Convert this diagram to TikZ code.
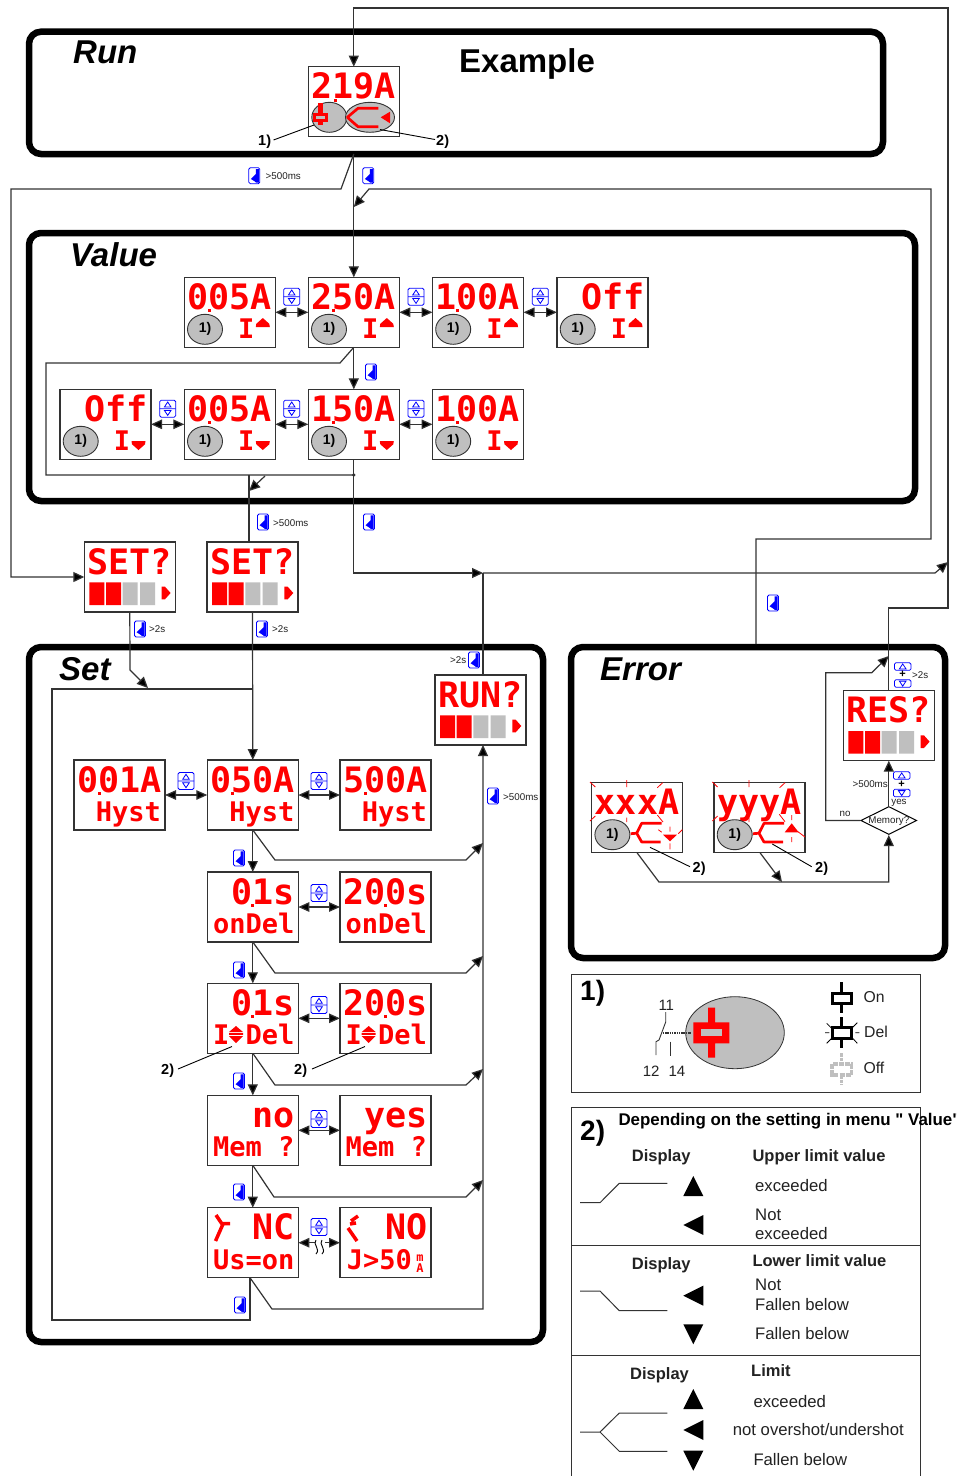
\documentclass[tikz,border=0pt]{standalone}
\usepackage{fontspec}
\setmainfont{Liberation Sans}
\newfontfamily\lcdfont{DejaVu Sans Mono}
\newfontfamily\plainsans{Liberation Sans}
\usetikzlibrary{arrows.meta,shapes.geometric}
\definecolor{lc}{HTML}{333333}
\definecolor{tc}{HTML}{222222}
\definecolor{gy}{HTML}{BFBFBF}
\definecolor{kb}{HTML}{0000FF}
\tikzset{
 flow/.style={line width=1.2pt,draw=lc},
 arr/.style={flow,-{Triangle[length=11pt,width=10pt,fill=black]},shorten >=0pt},
 dbl/.style={flow,{Triangle[length=11pt,width=9.5pt,fill=black]}-{Triangle[length=11pt,width=9.5pt,fill=black]}},
 thin2/.style={line width=.9pt,draw=black},
 frm/.style={draw=black,line width=6.5pt,rounded corners=12pt,inner sep=0,outer sep=0},
 pbox/.style={draw=lc,line width=1.1pt,fill=white,minimum width=91pt,minimum height=70pt,inner sep=0,outer sep=0,anchor=north west},
 lcdtop/.style={inner sep=0,outer sep=0,text=red,anchor=base east,font=\lcdfont\bfseries\fontsize{35}{35}\selectfont},
 lcdlow/.style={inner sep=0,outer sep=0,text=red,anchor=base east,font=\lcdfont\bfseries\fontsize{27}{27}\selectfont},
 eln/.style={ellipse,draw=lc,line width=.9pt,fill=gy,inner sep=0,outer sep=0,minimum width=35pt,minimum height=30pt,font=\bfseries\fontsize{14}{14}\selectfont},
 ttl/.style={inner sep=0,anchor=base west,font=\bfseries\itshape\fontsize{33}{33}\selectfont},
 sm/.style={inner sep=0,text=tc,font=\fontsize{9.8}{9.8}\selectfont},
 cal/.style={inner sep=0,anchor=base west,font=\bfseries\fontsize{14.5}{14.5}\selectfont},
 body/.style={inner sep=0,anchor=base west,text=tc,font=\fontsize{16.7}{16.7}\selectfont},
 hd/.style={inner sep=0,anchor=base west,text=tc,font=\bfseries\fontsize{16.5}{16.5}\selectfont},
 rsym/.style={draw=red,line width=2.7pt},
 ray/.style={draw=red,line width=.8pt},
 keyl/.style={draw=kb,line width=.8pt,rounded corners=1.5pt},
 enterkey/.pic={\draw[keyl] (-5.5,-8) rectangle (5.5,8);
   \fill[kb] (-3.4,3.3)--(1.6,-1.8)--(1.6,-6.7)--(4.6,-6.7)--(4.6,7)--(2,7)--(.3,5.6)--cycle;},
 updown/.pic={\draw[keyl] (-8,-8.5) rectangle (8,8.5);
   \draw[draw=kb,line width=.8pt] (-8,0)--(8,0) (0,-6.7)--(-3.3,-1.7)--(3.3,-1.7)--cycle (0,6.7)--(-3.3,1.7)--(3.3,1.7)--cycle;},
 smallup/.pic={\draw[keyl] (-8.3,-3.8) rectangle (8.3,3.8);
   \draw[draw=kb,line width=.8pt] (0,-2.6)--(-3.3,2.4)--(3.3,2.4)--cycle;},
 smalldn/.pic={\draw[keyl] (-8.3,-3.8) rectangle (8.3,3.8);
   \draw[draw=kb,line width=.8pt] (0,2.6)--(-3.3,-2.4)--(3.3,-2.4)--cycle;},
}
\newcommand\lcdpanel[4]{\node[pbox] (#1) at (#2,#3) {};
 \begin{scope}[shift={(#2,#3)}]\node[lcdtop] (#1t) at (87.5,32) {#4};\end{scope}}
\newcommand\lcdlower[4]{\begin{scope}[shift={(#2,#3)}]\node[lcdlow] (#1l) at (87,61.5) {#4};\end{scope}}
\newcommand\lcddot[3]{\fill[red] (#1+#3-1.5,#2+32) rectangle (#1+#3+1.5,#2+35);}
\newcommand\limitup[3]{\begin{scope}[shift={(#2,#3)}]
 \node[eln] (#1e) at (20.7,52) {1)};
 \node[lcdlow,anchor=base] (#1i) at (62,61) {I};
 \fill[red] (78.5,40.7)--(72,46.5)--(71.5,49.7)--(85.5,49.7)--(85,46.5)--cycle;
 \end{scope}}
\newcommand\limitdn[3]{\begin{scope}[shift={(#2,#3)}]
 \node[eln] (#1e) at (20.7,52) {1)};
 \node[lcdlow,anchor=base] (#1i) at (62,61) {I};
 \fill[red] (78.5,60.7)--(72,55)--(71.5,51.7)--(85.5,51.7)--(85,55)--cycle;
 \end{scope}}
\newcommand\progress[2]{\begin{scope}[shift={(#1,#2)}]
 \fill[red] (5,40.3) rectangle (20,63) (21.7,40.3) rectangle (36.7,63);
 \fill[gy] (38.3,40.3) rectangle (53.3,63) (55.7,40.3) rectangle (70.7,63);
 \fill[red] (77.3,44.7)--(80.7,44.7)--(86.3,51)--(80.7,57.3)--(77.3,57.3)--cycle;
 \end{scope}}
\newcommand\updownmark[2]{\begin{scope}[shift={(#1,#2)}]
 \fill[red] (28.7,42.7)--(21.7,48.7)--(35.7,48.7)--cycle (28.7,59.7)--(21.7,52.7)--(35.7,52.7)--cycle (21.7,49.8) rectangle (35.7,51.6);
 \end{scope}}
\newcommand\splitsym[2]{\begin{scope}[shift={(#1,#2)}]
 \draw[rsym,line join=bevel] (70,40.6)--(50,40.6)--(45,50.5)--(50,59.3)--(69,59.3) (39,51)--(45,50.5);
 \end{scope}}
\newcommand\toprays[2]{\begin{scope}[shift={(#1,#2)}]
 \draw[ray] (-1.7,-.7)--(3.6,4.3) (35,-2.7)--(35,4.3) (65.6,5)--(71,0) (-1.7,38.3)--(3.6,33.3) (35,35)--(35,39.3) (65.6,32.3)--(71.3,39.3);
 \end{scope}}
\begin{document}
\begin{tikzpicture}[x=1pt,y=-1pt]
\useasboundingbox (0,0) rectangle (957,1476);
\fill[white] (0,0) rectangle (957,1476);
% frames
\node[frm,minimum width=854pt,minimum height=122.3pt] (frun) at (456,92.85) {};
\node[frm,minimum width=886pt,minimum height=268pt] (fval) at (472,367) {};
\node[frm,minimum width=514pt,minimum height=695pt] (fset) at (286,994.5) {};
\node[frm,minimum width=374pt,minimum height=311pt] (ferr) at (758,802.5) {};
\node[ttl] (trun) at (73,63) {Run};
\node[inner sep=0,anchor=base west,font=\bfseries\fontsize{33}{33}\selectfont] (texa) at (459,72) {Example};
\node[ttl] (tval) at (70,266) {Value};
\node[ttl] (tset) at (59,680) {Set};
\node[ttl] (terr) at (600,680) {Error};
% displays
\lcdpanel{d219}{308.3}{66.7}{219A}\fill[red] (333.5,98.7) rectangle (336.5,101.7);
\begin{scope}[shift={(308.3,66.7)}]
\node[eln] (e1) at (21,50.6) {};
\node[eln,minimum width=49pt] (e2) at (61.7,50.6) {};
\fill[red] (10,36.7) rectangle (15,58.3);
\fill[red] (5,46.7) rectangle (20,55);
\fill[gy] (8,49.3) rectangle (17,51.8);
\draw[rsym,line join=bevel] (70,41.6)--(49.7,41.6)--(39,50.6)--(49.7,60)--(70,60);
\fill[red] (72.4,50.6)--(81.7,45)--(81.7,56.6)--cycle;
\end{scope}
\lcdpanel{v1}{184.3}{277.3}{005A}\lcddot{184.3}{277.3}{24.7}\limitup{v1}{184.3}{277.3}
\lcdpanel{v2}{308.3}{277.3}{250A}\lcddot{308.3}{277.3}{25}\limitup{v2}{308.3}{277.3}
\lcdpanel{v3}{432.5}{277.3}{100A}\lcddot{432.5}{277.3}{25}\limitup{v3}{432.5}{277.3}
\lcdpanel{v4}{557}{277.3}{Off}\limitup{v4}{557}{277.3}
\lcdpanel{w0}{60}{389.3}{Off}\limitdn{w0}{60}{389.3}
\lcdpanel{w1}{184.3}{389.3}{005A}\lcddot{184.3}{389.3}{24.7}\limitdn{w1}{184.3}{389.3}
\lcdpanel{w2}{308.3}{389.3}{150A}\lcddot{308.3}{389.3}{25}\limitdn{w2}{308.3}{389.3}
\lcdpanel{w3}{432.5}{389.3}{100A}\lcddot{432.5}{389.3}{25}\limitdn{w3}{432.5}{389.3}
\lcdpanel{set1}{84.3}{542}{SET?}\progress{84.3}{542}
\lcdpanel{set2}{207}{542}{SET?}\progress{207}{542}
\lcdpanel{run}{435}{675}{RUN?}\progress{435}{675}
\lcdpanel{res}{843.3}{690.7}{RES?}\progress{843.3}{690.7}
\lcdpanel{h1}{74}{760}{001A}\lcddot{74}{760}{25}\lcdlower{h1}{74}{760}{Hyst}
\lcdpanel{h2}{207.3}{760}{050A}\lcddot{207.3}{760}{25}\lcdlower{h2}{207.3}{760}{Hyst}
\lcdpanel{h3}{340}{760}{500A}\lcddot{340}{760}{25}\lcdlower{h3}{340}{760}{Hyst}
\lcdpanel{o1}{207.3}{872}{01s}\lcddot{207.3}{872}{45}\lcdlower{o1}{207.3}{872}{onDel}
\lcdpanel{o2}{340}{872}{200s}\lcddot{340}{872}{45}\lcdlower{o2}{340}{872}{onDel}
\lcdpanel{i1}{207.3}{983.3}{01s}\lcddot{207.3}{983.3}{45}\lcdlower{i1}{207.3}{983.3}{I Del}\updownmark{207.3}{983.3}
\lcdpanel{i2}{340}{983.3}{200s}\lcddot{340}{983.3}{45}\lcdlower{i2}{340}{983.3}{I Del}\updownmark{340}{983.3}
\lcdpanel{m1}{207.3}{1095.3}{no}\lcdlower{m1}{207.3}{1095.3}{Mem ?}
\lcdpanel{m2}{340}{1095.3}{yes}\lcdlower{m2}{340}{1095.3}{Mem ?}
\lcdpanel{n1}{207.3}{1207.7}{NC}\lcdlower{n1}{207.3}{1207.7}{Us=on}
\lcdpanel{n2}{340}{1207.7}{NO}
\node[lcdlow] (n2l) at (412,1269.5) {J>50};
\node[inner sep=0,text=red,anchor=base,font=\lcdfont\bfseries\fontsize{12}{12}\selectfont] (n2m) at (420,1261.5) {m};
\node[inner sep=0,text=red,anchor=base,font=\lcdfont\bfseries\fontsize{12}{12}\selectfont] (n2a) at (420,1272) {A};
\draw[rsym,line width=3.5pt] (216,1215)--(221.7,1223.5)--(230,1223.5) (223,1224)--(215.5,1241);
\draw[rsym,line width=3.5pt] (358,1216)--(351,1221) (348,1228)--(357,1241) (350,1224)--(356,1223);
\lcdpanel{x1}{591.7}{782.7}{xxxA}\node[eln] (x1e) at (612.4,834.7) {1)};\splitsym{591.7}{782.7}
\toprays{591.7}{782.7}
\begin{scope}[shift={(591.7,782.7)}]
\fill[red] (71.3,52)--(85.3,52)--(78.3,58.6)--cycle;
\draw[ray] (66.6,47)--(70,49.5) (78.3,44)--(78.3,49) (86.6,51)--(90.6,47) (78.3,60.6)--(78.3,66.6);
\end{scope}
\lcdpanel{x2}{714}{782.7}{yyyA}\node[eln] (x2e) at (734.7,834.7) {1)};\splitsym{714}{782.7}
\begin{scope}[shift={(714,782.7)}]
\draw[ray] (-1.7,-.7)--(3.6,4.3) (35,-2.7)--(35,4.3) (65.6,5)--(71,0) (-1.7,38.3)--(3.6,33.3) (35,35)--(35,39.3);
\fill[red] (77.7,40.6)--(70.7,49.6)--(84.7,49.6)--cycle;
\draw[ray] (65.3,31.6)--(71,39) (77.7,32.3)--(77.7,37.3) (84,49)--(91,54.3) (77.7,54.3)--(77.7,59.3);
\end{scope}
% junction points
\coordinate (runout) at (353.8,154);
\coordinate (dotj) at (353.8,475);
\coordinate (busa) at (483,573);
\coordinate (rvin) at (483,745);
\coordinate (j207) at (353.8,207);
% Run connections
\draw[arr] (res.north)--(888.8,608)--(948,608)--(948,8)--(353.8,8)--(d219.north);
\draw[arr] (runout)--(v2.north);
\draw[arr] (runout)--(341,189)--(11,189)--(11,577)--(set1.west);
\draw[arr] (756,644)--(756,539)--(931,539)--(931,189)--(369,189)--(j207);
% Value connections
\draw[dbl] (v1.east)--(v2.west);
\draw[dbl] (v2.east)--(v3.west);
\draw[dbl] (v3.east)--(v4.west);
\draw[dbl] (w0.east)--(w1.west);
\draw[dbl] (w1.east)--(w2.west);
\draw[dbl] (w2.east)--(w3.west);
\draw[arr] (v2.south)--(w2.north);
\draw[flow] (v2.south)--(340,363)--(46,363)--(46,475)--(dotj);
\draw[arr] (w2.south)--(dotj)--(353.8,573)--(busa);
\fill[lc] (dotj) circle (1.9);
\draw[arr] (265,476)--(249,491);
\draw[flow] (249,475)--(249,542);
% bus to the right
\draw[flow] (483,675)--(busa);
\draw[arr] (busa)--(935,573)--(948,562);
% Set connections
\draw[arr] (set1.south)--(130,670)--(148,688);
\draw[arr] (set2.south)--(h2.north);
\draw[flow] (252.7,689)--(52,689)--(52,1320)--(250,1320)--(250,1277.7);
\draw[dbl] (h1.east)--(h2.west);
\draw[dbl] (h2.east)--(h3.west);
\draw[dbl] (o1.east)--(o2.west);
\draw[dbl] (i1.east)--(i2.west);
\draw[dbl] (m1.east)--(m2.west);
\draw[dbl] (n1.east)--(n2.west);
\fill[white] (314.5,1236) rectangle (324.5,1258);
\draw[thin2] (316,1240) .. controls (312,1244) and (321,1249) .. (316,1254);
\draw[thin2] (322,1240) .. controls (318,1244) and (327,1249) .. (322,1254);
\draw[arr] (h2.south)--(o1.north);
\draw[arr] (o1.south)--(i1.north);
\draw[arr] (i1.south)--(m1.north);
\draw[arr] (m1.south)--(n1.north);
\draw[arr] (h2.south)--(275,860)--(466,860)--(483,843);
\draw[arr] (o1.south)--(275,973)--(466,973)--(483,956);
\draw[arr] (i1.south)--(275,1085)--(466,1085)--(483,1069);
\draw[arr] (m1.south)--(274,1197)--(466,1197)--(483,1180);
\draw[arr] (250,1277.7)--(272,1309)--(483,1309)--(rvin);
% Error connections
\node[diamond,aspect=2,draw=black,line width=1pt,fill=white,inner sep=0,minimum width=56pt,minimum height=28pt] (mem) at (888.8,820.5) {};
\node[sm] (memt) at (888.8,821.5) {Memory?};
\draw[arr] (mem.north)--(res.south);
\draw[arr] (mem.west)--(825.7,820.5)--(825.7,672.7)--(871.7,672.7)--(888.8,656);
\draw[arr] (637,852.7)--(659,882)--(888.8,882)--(mem.south);
\draw[arr] (760,852.7)--(782,882);
% callouts
\node[cal] (c1) at (258,145) {1)};
\draw[thin2] (273.5,140)--(314,125);
\node[cal] (c2) at (436,145) {2)};
\draw[thin2] (435,139.5)--(380,129.5);
\node[cal] (c3) at (161,1074) {2)};
\draw[thin2] (178,1069)--(232,1046.5);
\node[cal] (c4) at (294,1074) {2)};
\draw[thin2] (312,1069)--(365,1046.5);
\node[cal] (c5) at (692.5,872) {2)};
\draw[thin2] (690,866.7)--(650,847.3);
\node[cal] (c6) at (815,872) {2)};
\draw[thin2] (811.7,866.7)--(772.3,844);
% keys
\pic at (254.3,175.7) {enterkey};
\node[sm,anchor=west] (l1) at (265.5,176) {>500ms};
\pic at (368.3,175.7) {enterkey};
\pic at (371,372) {enterkey};
\pic at (263,522) {enterkey};
\node[sm,anchor=west] (l2) at (273,523) {>500ms};
\pic at (369,522) {enterkey};
\pic at (140,629) {enterkey};
\node[sm,anchor=west] (l3) at (149,629) {>2s};
\pic at (262,629) {enterkey};
\node[sm,anchor=west] (l4) at (272,629) {>2s};
\pic at (474,660) {enterkey};
\node[sm,anchor=west] (l5) at (450,660) {>2s};
\pic at (493,796) {enterkey};
\node[sm,anchor=west] (l6) at (503,797) {>500ms};
\pic at (773,603) {enterkey};
\pic at (239,858) {enterkey};
\pic at (239,970) {enterkey};
\pic at (239,1081) {enterkey};
\pic at (239,1192) {enterkey};
\pic at (240,1305) {enterkey};
\pic at (291.7,296.7) {updown};
\pic at (416,296.7) {updown};
\pic at (540.3,296.7) {updown};
\pic at (167.7,408.7) {updown};
\pic at (291.7,408.7) {updown};
\pic at (416,408.7) {updown};
\pic at (186,781) {updown};
\pic at (319,781) {updown};
\pic at (319,893) {updown};
\pic at (319,1005) {updown};
\pic at (319,1119) {updown};
\pic at (319,1227) {updown};
\pic at (902.7,666.5) {smallup};
\node[inner sep=0,font=\bfseries\fontsize{11}{11}\selectfont] (pl1) at (902.7,674.5) {+};
\pic at (902.7,683.5) {smalldn};
\node[sm,anchor=west] (l7) at (912,675) {>2s};
\pic at (901.7,775.5) {smallup};
\node[inner sep=0,font=\bfseries\fontsize{11}{11}\selectfont] (pl2) at (901.7,784.5) {+};
\pic at (901.7,793) {smalldn};
\node[sm,anchor=east] (l8) at (888,784) {>500ms};
\node[sm] (l9) at (899,802.5) {yes};
\node[sm] (l10) at (845,814) {no};
% legend 1
\draw[draw=lc,line width=1pt] (571.3,974) rectangle (920,1092.7);
\node[inner sep=0,anchor=base west,font=\bfseries\fontsize{28}{28}\selectfont] (t1) at (580,1000) {1)};
\node[ellipse,draw=lc,line width=.8pt,fill=gy,inner sep=0,minimum width=98.6pt,minimum height=72pt] (bige) at (735,1032.7) {};
\fill[red] (708.2,1007.7) rectangle (715.2,1057.7) (693.3,1022.3) rectangle (729.3,1043.3);
\fill[gy] (700.7,1029.3) rectangle (722.3,1036);
\node[body,font=\fontsize{15}{15}\selectfont] (n11) at (658.3,1010.7) {11};
\node[body,font=\fontsize{15}{15}\selectfont] (n12) at (642.7,1076) {12};
\node[body,font=\fontsize{15}{15}\selectfont] (n14) at (668.3,1076) {14};
\draw[thin2,draw=lc] (665.7,1012)--(665.7,1022)--(659,1040)--(656,1041.7)--(656,1055);
\draw[thin2,draw=lc] (670.7,1041.7)--(670.7,1056);
\draw[line width=1.7pt,draw=lc,dash pattern=on 1.5pt off .8pt] (662.7,1032.7)--(690.7,1032.7);
% relay symbols
\draw[line width=3pt,black] (841.7,982.3)--(841.7,993) (841.7,1003.5)--(841.7,1012.7);
\draw[line width=3pt,black] (832,993.3) rectangle (851.7,1003.3);
\node[body,font=\fontsize{15.75}{15.75}\selectfont] (son) at (863.3,1002.7) {On};
\draw[line width=3pt,black] (841.7,1017)--(841.7,1027.5) (841.7,1038.5)--(841.7,1048);
\draw[line width=3pt,black] (832,1027.7) rectangle (851.7,1038.3);
\draw[line width=.8pt,black] (826.7,1023.3)--(831.7,1028.3) (857.3,1022.7)--(852.7,1027.3) (825,1032.7)--(829.3,1032.7) (855.3,1032.7)--(859.3,1032.7) (826.7,1043.3)--(831.7,1038.3) (857.3,1043.3)--(852.7,1038.3);
\node[body,font=\fontsize{15.75}{15.75}\selectfont] (sdel) at (864,1037.7) {Del};
\draw[line width=3.2pt,draw=gy,dash pattern=on 3.5pt off 1pt] (841.7,1053)--(841.7,1063) (841.7,1075)--(841.7,1085);
\draw[line width=3.2pt,draw=gy,dash pattern=on 5pt off 1.2pt] (832,1064) rectangle (851.7,1075);
\node[body,font=\fontsize{15.75}{15.75}\selectfont] (soff) at (863.3,1073.3) {Off};
% legend 2
\draw[draw=lc,line width=1pt] (571.3,1490) -- (571.3,1107.3) -- (920,1107.3) -- (920,1490);
\draw[draw=lc,line width=1pt] (571.3,1245.7) -- (920,1245.7);
\draw[draw=lc,line width=1pt] (571.3,1355.7) -- (920,1355.7);
\node[inner sep=0,anchor=base west,font=\bfseries\fontsize{28}{28}\selectfont] (t2) at (580,1140) {2)};
\node[inner sep=0,anchor=base west,text=black,font=\plainsans\bfseries\fontsize{16.9}{16.9}\selectfont] (dep) at (618.3,1125.7) {Depending on the setting in menu " Value"};
\node[hd] (a1) at (631.7,1161.7) {Display};
\node[hd] (a2) at (752.3,1161.3) {Upper limit value};
\node[body] (a3) at (755,1191.7) {exceeded};
\node[body] (a4) at (755,1220.7) {Not};
\node[body] (a5) at (755,1239.7) {exceeded};
\node[hd] (b1) at (631.7,1269.3) {Display};
\node[hd] (b2) at (752.3,1266.7) {Lower limit value};
\node[body] (b3) at (755,1290.7) {Not};
\node[body] (b4) at (755,1310.7) {Fallen below};
\node[body] (b5) at (755,1339.3) {Fallen below};
\node[hd] (c7) at (630,1379) {Display};
\node[hd] (c8) at (751,1376.7) {Limit};
\node[body] (c9) at (753.3,1407.7) {exceeded};
\node[body] (c10) at (732.7,1435) {not overshot/undershot};
\node[body] (c11) at (753.3,1465.7) {Fallen below};
\draw[flow,line width=1pt] (580,1202.7)--(600,1202.7)--(619.3,1183.3)--(667.3,1183.3);
\draw[flow,line width=1pt] (580,1291)--(600,1291)--(619.3,1310.7)--(667.3,1310.7);
\draw[flow,line width=1pt] (667.3,1413)--(619.3,1413)--(600,1432)--(619.3,1451.3)--(667.3,1451.3) (580,1432)--(600,1432);
\fill[black] (693.3,1176)--(683.3,1196)--(703.3,1196)--cycle;
\fill[black] (683.3,1225)--(703.3,1215)--(703.3,1235)--cycle;
\fill[black] (683.3,1295.7)--(703.3,1285.7)--(703.3,1305.7)--cycle;
\fill[black] (693.3,1344.3)--(683.3,1324.3)--(703.3,1324.3)--cycle;
\fill[black] (693.3,1389)--(683.3,1409)--(703.3,1409)--cycle;
\fill[black] (683.3,1430)--(703.3,1420)--(703.3,1440)--cycle;
\fill[black] (693.3,1470.7)--(683.3,1450.7)--(703.3,1450.7)--cycle;
\end{tikzpicture}
\end{document}
